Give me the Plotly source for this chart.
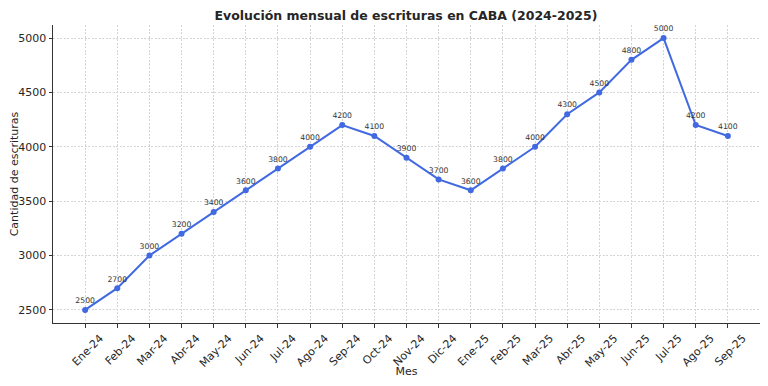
import plotly.graph_objects as go

months = ["Ene-24","Feb-24","Mar-24","Abr-24","May-24","Jun-24","Jul-24","Ago-24","Sep-24","Oct-24",
          "Nov-24","Dic-24","Ene-25","Feb-25","Mar-25","Abr-25","May-25","Jun-25","Jul-25","Ago-25","Sep-25"]
values = [2500,2700,3000,3200,3400,3600,3800,4000,4200,4100,3900,3700,3600,3800,4000,4300,4500,4800,5000,4200,4100]
yticks = [2500,3000,3500,4000,4500,5000]

xs = list(range(len(months)))
fig = go.Figure()
fig.add_trace(go.Scatter(
    x=xs, y=values, mode="lines+markers+text",
    line=dict(color="#4169E1", width=2),
    marker=dict(color="#4169E1", size=6),
    text=[str(v) for v in values], textposition="top center",
    textfont=dict(family="DejaVu Sans", size=7.7, color="#333333"),
    hoverinfo="x+y", showlegend=False, cliponaxis=False,
))

# page body has an 8px margin, so the figure is sized to fit the 768x386 window
fig.update_layout(
    width=752, height=370,
    margin=dict(l=45, r=0, t=17, b=55, autoexpand=False),
    paper_bgcolor="white", plot_bgcolor="white",
    font=dict(family="DejaVu Sans", color="#262626"),
    title=dict(text="<b>Evolución mensual de escrituras en CABA (2024-2025)</b>",
               x=398 / 752, xref="container", xanchor="center", y=0.99, yanchor="top",
               font=dict(size=12.5, color="#262626")),
)
fig.update_xaxes(
    range=[-1, 21], tickmode="array", tickvals=xs, ticktext=months, tickangle=-45,
    tickfont=dict(size=11), ticks="outside", ticklen=3.5, tickcolor="#333",
    ticklabelshift=15,
    showline=True, linecolor="#333", linewidth=1, mirror=False,
    showgrid=True, gridcolor="#d4d4d4", griddash="2px,1.5px", gridwidth=0.6,
    zeroline=False, automargin=False,
    title=dict(text="Mes", font=dict(size=11), standoff=0),
)
fig.update_yaxes(
    range=[2380, 5120], tickmode="array", tickvals=yticks,
    tickfont=dict(size=11), ticks="outside", ticklen=3.5, tickcolor="#333",
    showline=True, linecolor="#333", linewidth=1,
    showgrid=True, gridcolor="#d4d4d4", griddash="2px,1.5px", gridwidth=0.6,
    zeroline=False, automargin=False,
    title=dict(text="Cantidad de escrituras", font=dict(size=11), standoff=3),
)
fig.write_html("out.html")
